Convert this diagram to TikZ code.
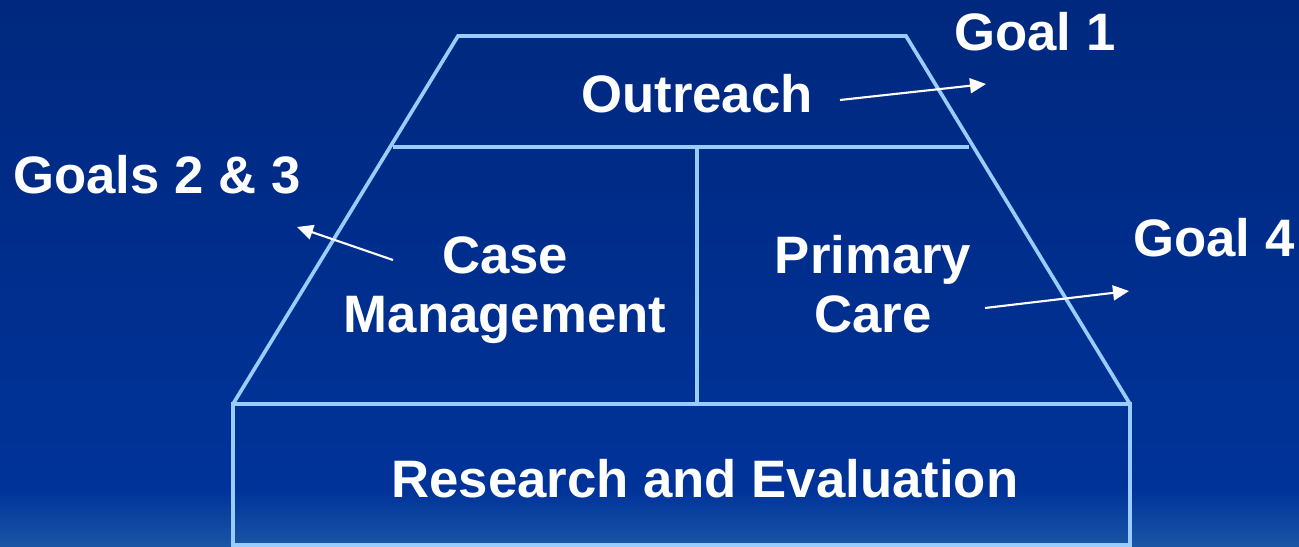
\documentclass[tikz,border=0pt]{standalone}
\usepackage{fontspec}
\setmainfont{Liberation Sans}
\usepackage{tikz}
\usetikzlibrary{arrows.meta, calc}
\definecolor{navytop}{HTML}{00287E}
\definecolor{navymid}{HTML}{003399}
\definecolor{navybot}{HTML}{1A56A6}
\definecolor{edge}{HTML}{99CCFF}

\begin{document}
\begin{tikzpicture}[x=0.02cm, y=-0.02cm,
	frame/.style={draw=edge, line width=2.1pt},
	lbl/.style={text=white, font=\fontsize{30}{34}\selectfont\bfseries, align=center, anchor=base, inner sep=0pt},
	goalarrow/.style={draw=white, line width=1.2pt, -{Triangle[length=0.32cm, width=0.3cm]}}]
	% background
	\useasboundingbox (0,0) rectangle (1299,547);
	\fill[top color=navytop, bottom color=navymid] (0,0) rectangle (1299,490);
	\fill[top color=navymid, bottom color=navybot] (0,490) rectangle (1299,547);
	% pyramid
	\draw[frame] (233,404) -- (458,36) -- (906,36) -- (1130,404);
	\draw[frame] (393,147) -- (969,147);
	\draw[frame] (697,147) -- (697,404);
	\draw[frame] (233,404) rectangle (1130,545);
	% labels (base of two-line labels = last line)
	\node[lbl] (out) at (697,113) {Outreach};
	\node[lbl] (cm) at (505,333) {Case\\Management};
	\node[lbl] (pc) at (873,333) {Primary\\Care};
	\node[lbl] (re) at (705,497) {Research and Evaluation};
	\node[lbl] (g1) at (1035,51) {Goal 1};
	\node[lbl] (g23) at (157,194) {Goals 2 \& 3};
	\node[lbl] (g4) at (1214,257) {Goal 4};
	% arrows
	\coordinate (a1) at (840,100);
	\coordinate (b1) at (986,84);
	\coordinate (a2) at (393,260);
	\coordinate (b2) at (297,227);
	\coordinate (a3) at (985,308);
	\coordinate (b3) at (1129,291);
	\draw[goalarrow] (a1) -- (b1);
	\draw[goalarrow] (a2) -- (b2);
	\draw[goalarrow] (a3) -- (b3);
\end{tikzpicture}
\end{document}
